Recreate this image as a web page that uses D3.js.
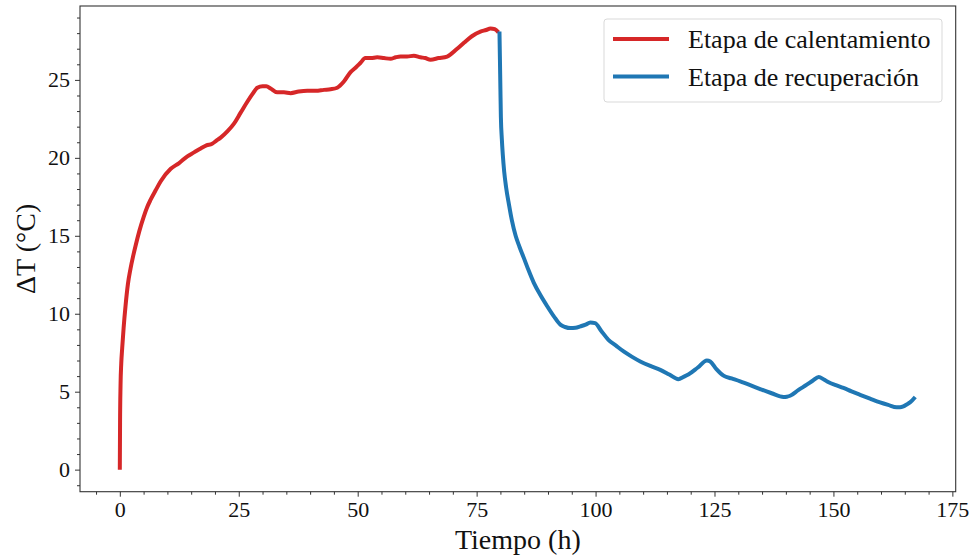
<!DOCTYPE html>
<html>
<head>
<meta charset="utf-8">
<script src="https://cdn.jsdelivr.net/npm/d3@7"></script>
<style>
  html, body { margin: 0; padding: 0; background: #fff; }
  svg { display: block; font-family: "Liberation Serif", "Times New Roman", serif; }
</style>
</head>
<body>
<svg id="chart" width="971" height="558"></svg>
<script>
// Heating stage: time (h) and temperature rise (°C)
const heatTime = [0, 0.05, 0.15, 0.3, 0.5, 0.8, 1.2, 1.7, 2.25, 2.8, 3.3, 4.1, 5.0, 5.7, 6.45, 7.5, 8.6, 10.7, 12.4, 14.2, 15.6, 17.0, 18.2, 19.4, 20.3, 21.2, 22.6, 24.0, 25.4, 26.8, 27.9, 28.9, 30.0, 30.8, 31.7, 33.1, 34.5, 35.9, 37.6, 39.4, 41.2, 42.9, 44.3, 45.7, 47.1, 48.5, 49.6, 50.6, 51.6, 52.8, 54.1, 55.5, 56.9, 58.0, 59.0, 60.4, 61.8, 63.2, 64.2, 65.3, 67.0, 68.8, 70.9, 72.4, 74.0, 75.8, 77.0, 77.9, 78.8, 79.6];
const heatDelta = [0, 3.0, 5.4, 6.8, 7.8, 9.1, 10.5, 11.9, 12.9, 13.7, 14.35, 15.3, 16.2, 16.8, 17.3, 17.9, 18.5, 19.3, 19.65, 20.1, 20.35, 20.6, 20.8, 20.9, 21.1, 21.3, 21.7, 22.2, 22.9, 23.6, 24.1, 24.5, 24.6, 24.6, 24.45, 24.2, 24.2, 24.15, 24.25, 24.3, 24.3, 24.36, 24.4, 24.5, 24.9, 25.5, 25.8, 26.1, 26.4, 26.4, 26.45, 26.4, 26.35, 26.45, 26.5, 26.5, 26.55, 26.45, 26.4, 26.3, 26.4, 26.5, 27.0, 27.4, 27.8, 28.1, 28.2, 28.3, 28.25, 28.05];

// Recovery stage: time (h) and temperature rise (°C)
const recTime = [79.8, 79.9, 80.0, 80.1, 80.3, 80.5, 80.8, 81.2, 81.8, 82.4, 83.2, 84.0, 84.9, 85.9, 87.0, 88.4, 89.8, 91.2, 92.6, 93.6, 94.7, 95.8, 96.8, 97.9, 98.9, 99.9, 101.2, 102.7, 104.3, 105.9, 107.6, 109.4, 111.5, 113.6, 115.5, 117.4, 118.5, 119.5, 121.5, 123.4, 124.1, 125.4, 126.9, 128.6, 130.4, 132.5, 134.6, 137.0, 139.5, 140.2, 140.9, 142.6, 144.4, 145.7, 146.9, 148.0, 149.0, 150.5, 152.1, 153.8, 155.6, 157.7, 159.8, 161.5, 163.3, 164.0, 164.7, 165.4, 166.1, 167.2];
const recDelta = [28.1, 26.3, 24.4, 22.6, 21.2, 20.2, 19.1, 18.1, 17.0, 16.0, 15.0, 14.3, 13.6, 12.8, 12.0, 11.2, 10.5, 9.85, 9.3, 9.15, 9.08, 9.1, 9.19, 9.3, 9.44, 9.4, 8.9, 8.33, 7.95, 7.58, 7.25, 6.94, 6.65, 6.4, 6.1, 5.8, 5.95, 6.1, 6.55, 7.0, 6.94, 6.45, 6.03, 5.85, 5.66, 5.42, 5.17, 4.9, 4.66, 4.68, 4.74, 5.1, 5.45, 5.72, 5.94, 5.78, 5.6, 5.42, 5.24, 5.02, 4.8, 4.55, 4.31, 4.15, 4.0, 4.0, 4.06, 4.18, 4.31, 4.66];

const xTicks = [0, 25, 50, 75, 100, 125, 150, 175];
const yTicks = [0, 5, 10, 15, 20, 25];
const seriesLabels = ["Etapa de calentamiento", "Etapa de recuperación"];
const seriesColors = ["#d62728", "#1f77b4"];

const svg = d3.select("#chart");
const plot = { left: 80, right: 955.7, top: 6, bottom: 491.7 };

const x = d3.scaleLinear().domain([-8.37, 175.7]).range([plot.left, plot.right]);
const y = d3.scaleLinear().domain([-1.415, 29.74]).range([plot.bottom, plot.top]);

const heat = heatTime.map((t, i) => [t, heatDelta[i]]);
const rec = recTime.map((t, i) => [t, recDelta[i]]);

const line = d3.line().x(d => x(d[0])).y(d => y(d[1])).curve(d3.curveMonotoneX);

const g = svg.append("g");

// Minor ticks every 5 h and every 1 °C
const xMinor = d3.range(-5, 176, 5).filter(v => v % 25 !== 0);
const yMinor = d3.range(-1, 30, 1).filter(v => v % 5 !== 0);

const xAxis = d3.axisBottom(x).tickValues(xTicks).tickSize(5).tickPadding(5).tickFormat(d3.format("d"));
const yAxis = d3.axisLeft(y).tickValues(yTicks).tickSize(5).tickPadding(5).tickFormat(d3.format("d"));

const gx = g.append("g").attr("transform", `translate(0,${plot.bottom})`).call(xAxis);
const gy = g.append("g").attr("transform", `translate(${plot.left},0)`).call(yAxis);
g.append("g").attr("transform", `translate(0,${plot.bottom})`)
  .call(d3.axisBottom(x).tickValues(xMinor).tickSize(3).tickFormat(""))
  .call(s => s.select(".domain").remove());
g.append("g").attr("transform", `translate(${plot.left},0)`)
  .call(d3.axisLeft(y).tickValues(yMinor).tickSize(3).tickFormat(""))
  .call(s => s.select(".domain").remove());

[gx, gy].forEach(a => {
  a.select(".domain").remove();
  a.selectAll("text").attr("font-size", 22).attr("fill", "#111")
    .attr("font-family", '"Liberation Serif", "Times New Roman", serif');
});
g.selectAll(".tick line").attr("stroke", "#333").attr("stroke-width", 1);

// Frame
g.append("rect")
  .attr("x", plot.left).attr("y", plot.top)
  .attr("width", plot.right - plot.left).attr("height", plot.bottom - plot.top)
  .attr("fill", "none").attr("stroke", "#333").attr("stroke-width", 1.1);

// Curves
g.append("path").datum(heat).attr("d", line)
  .attr("fill", "none").attr("stroke", seriesColors[0]).attr("stroke-width", 4)
  .attr("stroke-linejoin", "round").attr("stroke-linecap", "butt");
g.append("path").datum(rec).attr("d", line)
  .attr("fill", "none").attr("stroke", seriesColors[1]).attr("stroke-width", 4)
  .attr("stroke-linejoin", "round").attr("stroke-linecap", "butt");

// Axis titles
svg.append("text").attr("x", (plot.left + plot.right) / 2).attr("y", 549)
  .attr("text-anchor", "middle").attr("font-size", 28).attr("fill", "#111")
  .text("Tiempo (h)");
svg.append("text")
  .attr("transform", `translate(35,${(plot.top + plot.bottom) / 2}) rotate(-90)`)
  .attr("text-anchor", "middle").attr("font-size", 28).attr("fill", "#111")
  .text("ΔT (°C)");

// Legend
const lg = svg.append("g");
lg.append("rect").attr("x", 604).attr("y", 19).attr("width", 338).attr("height", 83)
  .attr("rx", 3).attr("fill", "#fff").attr("fill-opacity", 0.8)
  .attr("stroke", "#d9d9d9").attr("stroke-width", 1);
seriesLabels.forEach((lab, i) => {
  const yy = 39 + i * 37.5;
  lg.append("line").attr("x1", 613).attr("x2", 669).attr("y1", yy).attr("y2", yy)
    .attr("stroke", seriesColors[i]).attr("stroke-width", 4);
  lg.append("text").attr("x", 688).attr("y", yy + 9).attr("font-size", 26).attr("fill", "#111")
    .text(lab);
});
</script>
</body>
</html>
